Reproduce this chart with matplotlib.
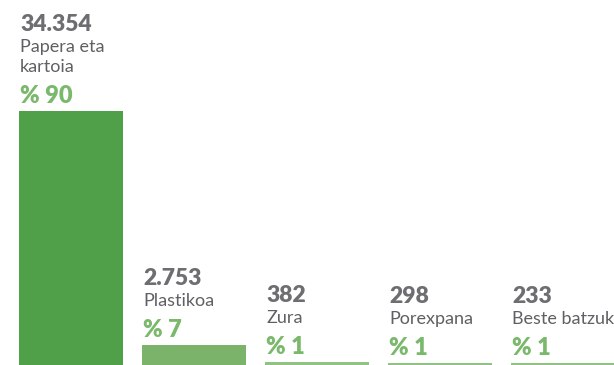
import matplotlib.pyplot as plt

plt.rcParams["font.family"] = ["Lato", "DejaVu Sans"]

values = [34354, 2753, 382, 298, 233]
value_labels = ["34.354", "2.753", "382", "298", "233"]
categories = ["Papera eta\nkartoia", "Plastikoa", "Zura", "Porexpana", "Beste batzuk"]
percents = ["% 90", "% 7", "% 1", "% 1", "% 1"]
bar_colors = ["#4fa049", "#7cb36b", "#90c383", "#90c383", "#90c383"]

GRAY = "#6d6e71"
LABEL_GRAY = "#5f6063"
GREEN_TXT = "#7ab86b"

fig = plt.figure(figsize=(6.14, 3.65), dpi=100)
ax = fig.add_axes([0, 0, 1, 1])

width = 104 / 123
x = list(range(len(values)))
ax.bar(x, values, width=width, color=bar_colors, align="center")

ax.set_xlim(-71 / 123, -71 / 123 + 614 / 123)
ax.set_ylim(0, values[0] * 365 / 254)
ax.axis("off")

for xi, v, num, cat, pct in zip(x, values, value_labels, categories, percents):
    left = xi - width / 2 + 0.008
    lines = cat.split("\n")
    ax.annotate(pct, (left, v), xytext=(0, 8), textcoords="offset pixels",
                ha="left", va="baseline", fontsize=17, fontweight="heavy",
                color=GREEN_TXT)
    for i, line in enumerate(reversed(lines)):
        ax.annotate(line, (left, v), xytext=(0, 39 + 20 * i),
                    textcoords="offset pixels", ha="left", va="baseline",
                    fontsize=13, fontweight="normal", color=LABEL_GRAY)
    ax.annotate(num, (left, v), xytext=(0, 60 + 20 * (len(lines) - 1)),
                textcoords="offset pixels", ha="left", va="baseline",
                fontsize=16.5, fontweight="heavy", color=GRAY)

fig.savefig("out.png", dpi=100)
